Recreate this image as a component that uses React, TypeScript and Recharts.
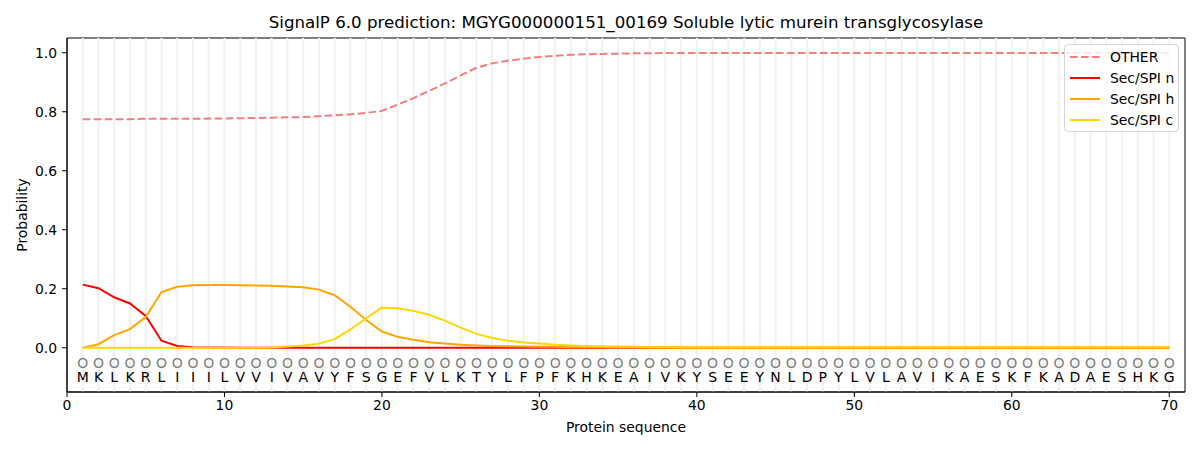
import React from 'react';
import {
  ComposedChart,
  Line,
  XAxis,
  YAxis,
  ReferenceLine,
  ReferenceArea,
  Scatter,
  Legend,
  Label,
} from 'recharts';

const residues = 'MKLKRLIIILVVIVAVYFSGEFVLKTYLFPFKHKEAIVKYSEEYNLDPYLVLAVIKAESKFKADAESHKG'.split('');

const otherProb = [
  0.775, 0.775, 0.775, 0.775, 0.776, 0.776, 0.776, 0.776, 0.777, 0.777,
  0.778, 0.779, 0.780, 0.781, 0.782, 0.785, 0.788, 0.791, 0.796, 0.803,
  0.824, 0.846, 0.871, 0.896, 0.923, 0.949, 0.964, 0.973, 0.980, 0.986,
  0.990, 0.993, 0.995, 0.996, 0.997, 0.998, 0.998, 0.999, 0.999, 0.999,
  0.999, 0.999, 0.999, 0.999, 0.999, 0.999, 0.999, 0.999, 0.999, 0.999,
  0.999, 0.999, 0.999, 0.999, 0.999, 0.999, 0.999, 0.999, 0.999, 0.999,
  0.999, 0.999, 0.999, 0.999, 0.999, 0.999, 0.999, 0.999, 0.999, 0.999,
];

const secN = [
  0.214, 0.202, 0.171, 0.150, 0.108, 0.024, 0.006, 0.002, 0.001, 0.001,
  0, 0, 0, 0, 0, 0, 0, 0, 0, 0,
  0, 0, 0, 0, 0, 0, 0, 0, 0, 0,
  0, 0, 0, 0, 0, 0, 0, 0, 0, 0,
  0, 0, 0, 0, 0, 0, 0, 0, 0, 0,
  0, 0, 0, 0, 0, 0, 0, 0, 0, 0,
  0, 0, 0, 0, 0, 0, 0, 0, 0, 0,
];

const secH = [
  0.0, 0.012, 0.043, 0.063, 0.104, 0.189, 0.207, 0.212, 0.213, 0.213,
  0.212, 0.211, 0.210, 0.208, 0.205, 0.197, 0.178, 0.139, 0.094, 0.055,
  0.037, 0.027, 0.019, 0.014, 0.010, 0.008, 0.006, 0.005, 0.004, 0.003,
  0.003, 0.002, 0.002, 0.002, 0.001, 0.001, 0.001, 0.001, 0.001, 0.001,
  0.001, 0.001, 0.001, 0.001, 0.001, 0.001, 0.001, 0.001, 0.001, 0.001,
  0.001, 0.001, 0.001, 0.001, 0.001, 0.001, 0.001, 0.001, 0.001, 0.001,
  0.001, 0.001, 0.001, 0.001, 0.001, 0.001, 0.001, 0.001, 0.001, 0.001,
];

const secC = [
  0, 0, 0, 0, 0, 0, 0, 0, 0, 0,
  0, 0, 0.001, 0.004, 0.008, 0.014, 0.029, 0.062, 0.100, 0.136,
  0.134, 0.125, 0.112, 0.092, 0.068, 0.047, 0.033, 0.024, 0.018, 0.014,
  0.010, 0.008, 0.006, 0.005, 0.004, 0.003, 0.002, 0.002, 0.001, 0.001,
  0.001, 0.001, 0.001, 0.001, 0.001, 0.001, 0.001, 0.001, 0.001, 0.001,
  0.001, 0.001, 0.001, 0.001, 0.001, 0.001, 0.001, 0.001, 0.001, 0.001,
  0.001, 0.001, 0.001, 0.001, 0.001, 0.001, 0.001, 0.001, 0.001, 0.001,
];

const xTicks = [0, 10, 20, 30, 40, 50, 60, 70];
const yTicks = [0, 0.2, 0.4, 0.6, 0.8, 1.0];

const titleText = 'SignalP 6.0 prediction: MGYG000000151_00169 Soluble lytic murein transglycosylase';

const seriesInfo = [
  { key: 'other', label: 'OTHER', color: '#f08080', dash: '7.7 3.3' },
  { key: 'n', label: 'Sec/SPI n', color: '#ff0000', dash: undefined },
  { key: 'h', label: 'Sec/SPI h', color: '#ffa500', dash: undefined },
  { key: 'c', label: 'Sec/SPI c', color: '#ffd700', dash: undefined },
];

const data = residues.map((aa, i) => ({
  pos: i + 1,
  aa,
  other: otherProb[i],
  n: secN[i],
  h: secH[i],
  c: secC[i],
  markY: -0.05,
  letterY: -0.1,
}));

const FONT = '"DejaVu Sans", sans-serif';

const LegendBox = () => (
  <div
    style={{
      position: 'relative',
      width: 115,
      height: 88,
      boxSizing: 'border-box',
      border: '1px solid #d6d6d6',
      borderRadius: 4,
      background: 'rgba(255,255,255,0.8)',
      fontFamily: FONT,
      fontSize: 13.9,
      color: '#000',
    }}
  >
    {seriesInfo.map((s, i) => (
      <div key={s.key} style={{ position: 'absolute', left: 0, top: 2 + i * 21, height: 20, width: 113 }}>
        <svg width={40} height={20} style={{ position: 'absolute', left: 0, top: 0 }}>
          <line x1={5} x2={35} y1={10} y2={10} stroke={s.color} strokeWidth={2} strokeDasharray={s.dash} />
        </svg>
        <span style={{ position: 'absolute', left: 45, top: 1, lineHeight: '18px', whiteSpace: 'nowrap' }}>{s.label}</span>
      </div>
    ))}
  </div>
);

const OMark = (p: any) => (
  <text x={p.cx} y={p.cy} textAnchor="middle" dominantBaseline="central" fill="#808080" fontSize={14} fontFamily={FONT}>
    O
  </text>
);

const Letter = (p: any) => (
  <text x={p.cx} y={p.cy} textAnchor="middle" dominantBaseline="central" fill="#000" fontSize={14} fontFamily={FONT}>
    {p.payload ? p.payload.aa : ''}
  </text>
);

export default function App() {
  return (
    <div style={{ position: 'absolute', left: 0, top: 0, width: 1200, height: 450, background: '#fff', fontFamily: FONT }}>
      <div
        style={{
          position: 'absolute',
          left: 67,
          width: 1118,
          top: 13,
          textAlign: 'center',
          fontSize: 16.67,
          lineHeight: '20px',
          color: '#000',
          whiteSpace: 'nowrap',
        }}
      >
        {titleText}
      </div>
      <ComposedChart width={1200} height={450} data={data} margin={{ top: 38, right: 15, bottom: 28, left: 7 }}>
        {data.map((d) => (
          <ReferenceLine key={'g' + d.pos} x={d.pos} stroke="#f1f1f1" strokeWidth={2} />
        ))}
        <XAxis
          type="number"
          dataKey="pos"
          domain={[0, 71]}
          ticks={xTicks}
          allowDataOverflow
          height={30}
          tickSize={5}
          tickMargin={3}
          stroke="#000"
          tick={{ fill: '#000', fontSize: 13.9, fontFamily: FONT }}
        >
          <Label
            content={(props: any) => {
              const vb = props.viewBox || { x: 67, y: 392, width: 1118 };
              return (
                <text x={vb.x + vb.width / 2} y={432} textAnchor="middle" fontSize={13.9} fontFamily={FONT} fill="#000">
                  Protein sequence
                </text>
              );
            }}
          />
        </XAxis>
        <YAxis
          type="number"
          domain={[-0.15, 1.05]}
          ticks={yTicks}
          allowDataOverflow
          width={60}
          tickSize={5}
          tickMargin={5}
          stroke="#000"
          tickFormatter={(v: number) => v.toFixed(1)}
          tick={{ fill: '#000', fontSize: 13.9, fontFamily: FONT }}
        >
          <Label
            content={(props: any) => {
              const vb = props.viewBox || { x: 7, y: 38, height: 354 };
              const cy = vb.y + vb.height / 2;
              return (
                <text
                  x={22}
                  y={cy}
                  transform={`rotate(-90, 22, ${cy})`}
                  textAnchor="middle"
                  dominantBaseline="central"
                  fontSize={13.9}
                  fontFamily={FONT}
                  fill="#000"
                >
                  Probability
                </text>
              );
            }}
          />
        </YAxis>
        {seriesInfo.map((s) => (
          <Line
            key={s.key}
            type="linear"
            dataKey={s.key}
            name={s.label}
            stroke={s.color}
            strokeWidth={2}
            strokeDasharray={s.dash}
            dot={false}
            activeDot={false}
            isAnimationActive={false}
          />
        ))}
        <Scatter dataKey="markY" shape={OMark} isAnimationActive={false} legendType="none" />
        <Scatter dataKey="letterY" shape={Letter} isAnimationActive={false} legendType="none" />
        <ReferenceArea x1={0} x2={71} y1={-0.15} y2={1.05} fill="none" fillOpacity={0} stroke="#000" strokeWidth={1} />
        <Legend
          layout="vertical"
          align="center"
          verticalAlign="middle"
          wrapperStyle={{ position: 'absolute', left: 1064, top: 44, width: 115, height: 88 }}
          content={() => <LegendBox />}
        />
      </ComposedChart>
    </div>
  );
}
